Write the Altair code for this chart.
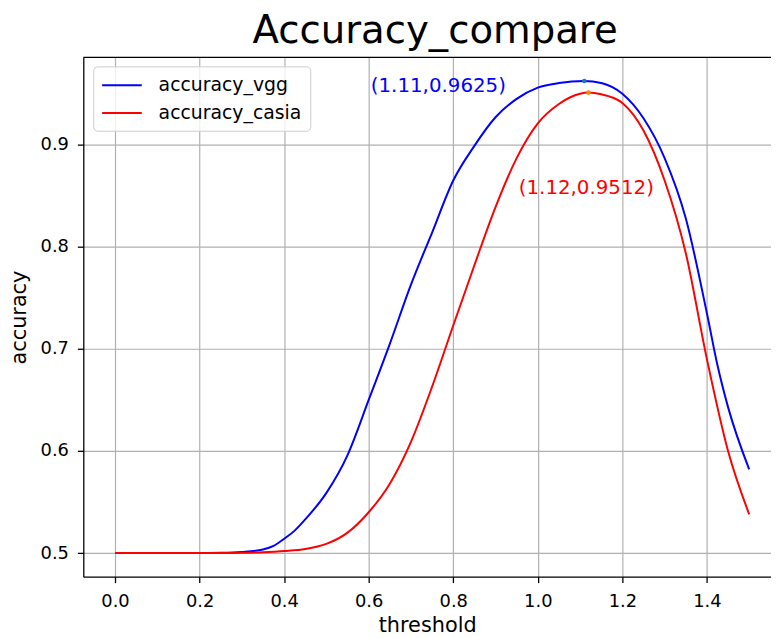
import altair as alt
import pandas as pd

# ---- data ----
thr_vgg = [0.00, 0.05, 0.10, 0.15, 0.20, 0.25, 0.30, 0.35, 0.375, 0.40, 0.425, 0.45, 0.50,
           0.55, 0.60, 0.65, 0.70, 0.75, 0.80, 0.85, 0.90, 0.95, 1.00, 1.05, 1.11,
           1.15, 1.20, 1.25, 1.30, 1.35, 1.40, 1.425, 1.45, 1.50]
acc_vgg = [0.500, 0.500, 0.500, 0.500, 0.500, 0.5002, 0.501, 0.5035, 0.507, 0.514, 0.522, 0.533, 0.559,
           0.596, 0.650, 0.705, 0.763, 0.814, 0.865, 0.899, 0.927, 0.945, 0.956, 0.9605, 0.9625,
           0.9605, 0.950, 0.926, 0.887, 0.828, 0.735, 0.684, 0.643, 0.582]

thr_casia = [0.00, 0.05, 0.10, 0.15, 0.20, 0.25, 0.30, 0.35, 0.40, 0.45, 0.50, 0.55, 0.60,
             0.65, 0.70, 0.75, 0.80, 0.85, 0.90, 0.95, 1.00, 1.05, 1.10, 1.12, 1.15,
             1.20, 1.25, 1.30, 1.35, 1.40, 1.45, 1.50]
acc_casia = [0.500, 0.500, 0.500, 0.500, 0.500, 0.500, 0.5002, 0.5008, 0.502, 0.504, 0.509, 0.520, 0.540,
             0.568, 0.609, 0.663, 0.723, 0.782, 0.839, 0.887, 0.921, 0.940, 0.950, 0.9512, 0.9495,
             0.941, 0.914, 0.865, 0.794, 0.690, 0.600, 0.538]

series_names = ["accuracy_vgg", "accuracy_casia"]
series_colors = ["#0000ff", "#ff0000"]

peak_x = [1.11, 1.12]
peak_y = [0.9625, 0.9512]
peak_colors = ["#1f77b4", "#ff7f0e"]

label_x = [0.605, 0.955]
label_y = [0.9515, 0.8515]
label_text = ["(1.11,0.9625)", "(1.12,0.9512)"]
label_colors = ["#0000ff", "#ff0000"]

x_ticks = [0.0, 0.2, 0.4, 0.6, 0.8, 1.0, 1.2, 1.4]
y_ticks = [0.5, 0.6, 0.7, 0.8, 0.9]

x_domain = [-0.075, 1.5516]
y_domain = [0.476875, 0.985625]

# ---- tables ----
rows = []
for t, a in zip(thr_vgg, acc_vgg):
    rows.append({"threshold": t, "accuracy": a, "series": series_names[0]})
for t, a in zip(thr_casia, acc_casia):
    rows.append({"threshold": t, "accuracy": a, "series": series_names[1]})
df = pd.DataFrame(rows)

peaks = pd.DataFrame({"threshold": peak_x, "accuracy": peak_y, "c": peak_colors})
labels = pd.DataFrame({"threshold": label_x, "accuracy": label_y, "t": label_text, "c": label_colors})
spine = pd.DataFrame({"x0": [x_domain[0]], "x1": [x_domain[1]], "y": [y_domain[1]]})

FONT = "DejaVu Sans"
xs = alt.Scale(domain=x_domain, nice=False, zero=False)
ys = alt.Scale(domain=y_domain, nice=False, zero=False)

lines = alt.Chart(df).mark_line(strokeWidth=2, interpolate="monotone", clip=True).encode(
    x=alt.X("threshold:Q", scale=xs,
            axis=alt.Axis(values=x_ticks, format=".1f", title="threshold")),
    y=alt.Y("accuracy:Q", scale=ys,
            axis=alt.Axis(values=y_ticks, format=".1f", title="accuracy")),
    color=alt.Color("series:N",
                    scale=alt.Scale(domain=series_names, range=series_colors),
                    sort=series_names,
                    legend=alt.Legend(title=None, orient="none", legendX=10, legendY=9,
                                      symbolType="M-1,0H3", symbolSize=400, symbolStrokeWidth=2,
                                      labelFontSize=19, labelFont=FONT, labelColor="black",
                                      labelOffset=36, rowPadding=7, padding=8,
                                      fillColor="rgba(255,255,255,0.8)", strokeColor="#cccccc",
                                      cornerRadius=4)),
    detail="series:N",
)

dots = alt.Chart(peaks).mark_circle(size=22, opacity=1).encode(
    x=alt.X("threshold:Q", scale=xs),
    y=alt.Y("accuracy:Q", scale=ys),
    color=alt.Color("c:N", scale=None),
)

texts = alt.Chart(labels).mark_text(align="left", baseline="alphabetic", fontSize=20, font=FONT).encode(
    x=alt.X("threshold:Q", scale=xs),
    y=alt.Y("accuracy:Q", scale=ys),
    text="t:N",
    color=alt.Color("c:N", scale=None),
)

top = alt.Chart(spine).mark_rule(color="black", strokeWidth=1.3).encode(
    x=alt.X("x0:Q", scale=xs),
    x2="x1:Q",
    y=alt.Y("y:Q", scale=ys),
)

chart = alt.layer(lines, dots, texts, top).properties(
    width=694,
    height=524,
    title=alt.TitleParams("Accuracy_compare", fontSize=39, font=FONT, fontWeight="normal",
                          color="black", anchor="middle", dx=8, offset=6),
    autosize=alt.AutoSizeParams(type="none"),
    padding={"left": 76, "top": 47, "right": 0, "bottom": 58},
).configure_view(stroke="transparent").configure_axis(
    domainColor="black", domainWidth=1.3, tickColor="black", tickWidth=1.3, tickSize=6,
    gridColor="#b0b0b0", gridWidth=1.2,
    labelFont=FONT, labelFontSize=18, labelColor="black",
    titleFont=FONT, titleFontSize=21, titleFontWeight="normal", titleColor="black",
).configure_axisX(labelPadding=10, titlePadding=4).configure_axisY(labelPadding=9, titlePadding=11)

chart.save("out.html", embed_options={"renderer": "svg", "actions": False})
